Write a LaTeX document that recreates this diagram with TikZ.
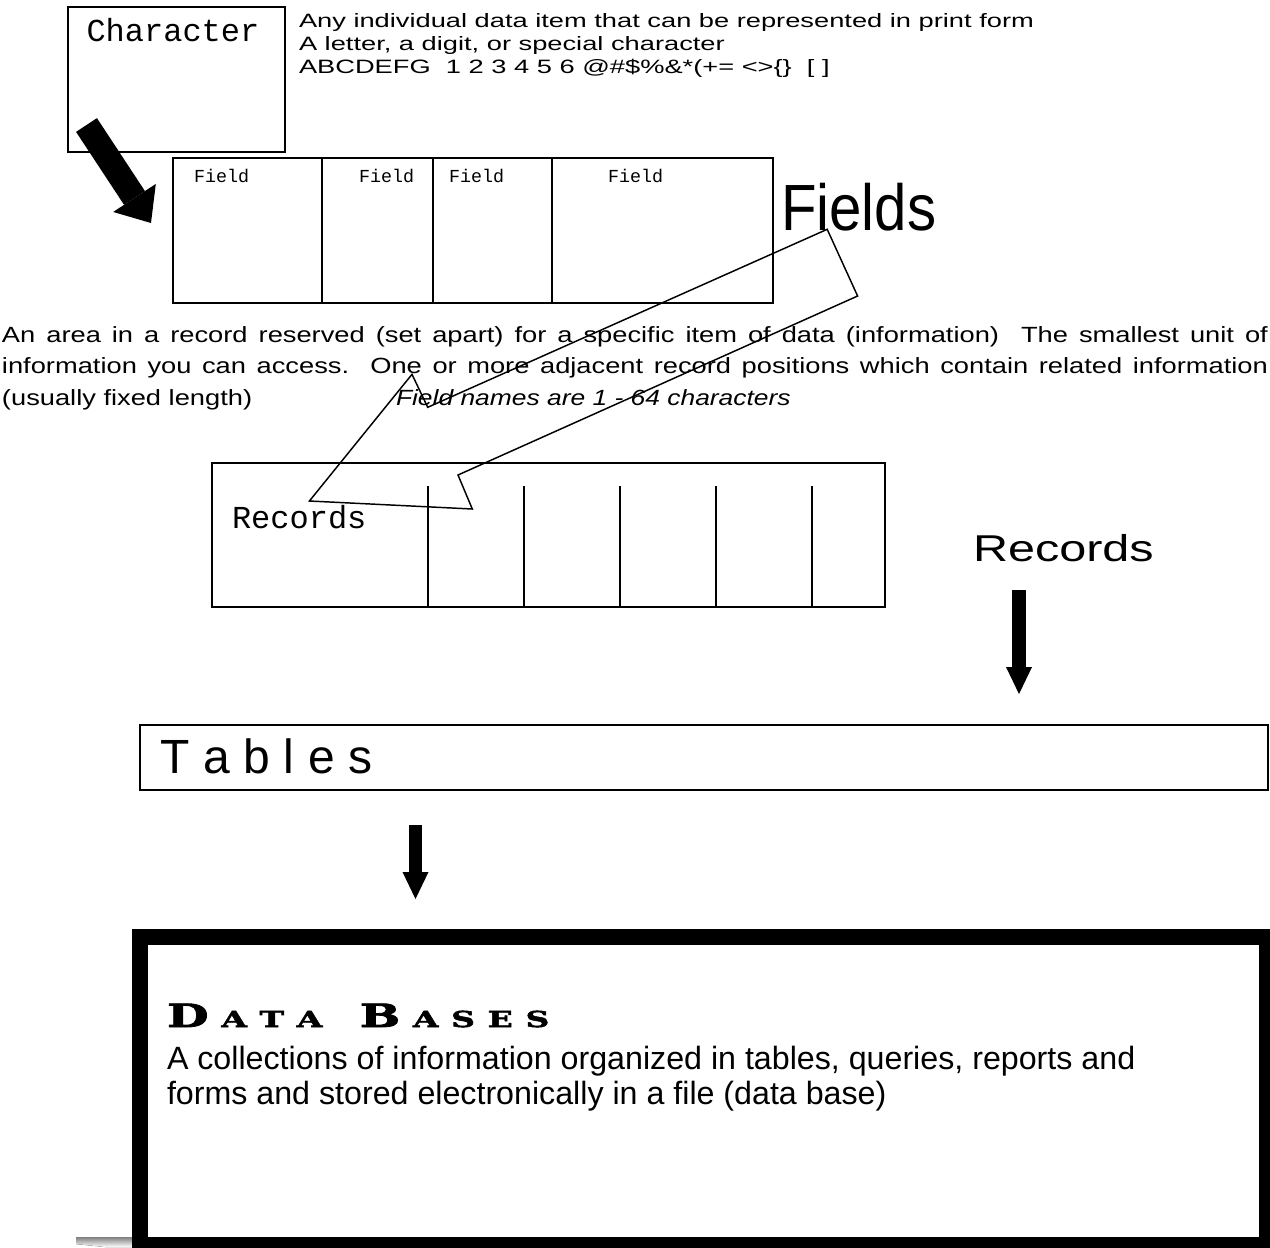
\documentclass[tikz,border=0pt]{standalone}
\usepackage{fontspec}
\usepackage{graphicx}
\setmainfont{Liberation Sans}
\newfontfamily\cour{Liberation Mono}
\newfontfamily\headfont[FakeStretch=1.5,FakeBold=2.5]{DejaVu Serif}
\usetikzlibrary{arrows.meta}
\definecolor{shade}{RGB}{192,192,192}
\newcommand\sx[2]{\scalebox{#1}[1]{#2}}
\newcommand\fs[2]{\fontsize{#1}{#2}\selectfont}
\begin{document}
\begin{tikzpicture}[x=0.75pt,y=-0.75pt,
  framebox/.style={draw, line width=1.5pt, inner sep=0pt, anchor=north west},
  txt/.style={anchor=base west, inner sep=0pt, outer sep=0pt},
  divider/.style={line width=1.5pt},
  callout/.style={line width=1.1pt, line join=miter},
  fatarrow/.style={line width=18.75pt, -{Triangle[width=38.25pt,length=22.5pt,line width=0pt]}},
  downarrow/.style={line width=#1, -{Triangle[width=19.5pt,length=20.25pt,line width=0pt]}}
]
\useasboundingbox (0,0) rectangle (1270,1247);
\clip (0,0) rectangle (1270,1247);

% ---------- Character ----------
\node[framebox, minimum width=162.75pt, minimum height=108.75pt] (charbox) at (67,6) {};
\node[txt] (charlbl) at (86.5,41.7) {\cour\fs{24pt}{28pt}Character};

\node[txt] (t1) at (299,27.5) {\fs{14.5pt}{17pt}\sx{1.41}{Any individual data item that can be represented in print form}};
\node[txt] (t2) at (299,50.5) {\fs{14.5pt}{17pt}\sx{1.41}{A letter, a digit, or special character}};
\node[txt] (t3) at (299,73.5) {\fs{14.5pt}{17pt}\sx{1.41}{ABCDEFG\ \ 1 2 3 4 5 6 @\#\$\%\&*(+= <>\{\}\ \ [ ]}};

% ---------- Fields ----------
\node[framebox, minimum width=450pt, minimum height=108.75pt] (fieldbox) at (172,157) {};
\draw[divider] (322,157) -- (322,302);
\draw[divider] (433,157) -- (433,302);
\draw[divider] (552,157) -- (552,302);
\node[txt] (f1) at (194,182.5) {\cour\fs{13.75pt}{16pt}Field};
\node[txt] (f2) at (359,182.5) {\cour\fs{13.75pt}{16pt}Field};
\node[txt] (f3) at (449,182.5) {\cour\fs{13.75pt}{16pt}Field};
\node[txt] (f4) at (608,182.5) {\cour\fs{13.75pt}{16pt}Field};
\node[txt] (fieldsttl) at (781,230.5) {\fs{49pt}{60pt}\sx{0.89}{Fields}};

\coordinate (fa1) at (86.5,125);
\coordinate (fa2) at (151,223);
\draw[fatarrow] (fa1) -- (fa2);

% ---------- paragraph ----------
\node[txt] (p1) at (2,342) {\fs{16.5pt}{20pt}\sx{1.24}{\makebox[765.7pt][s]{An area in a record reserved (set apart) for a specific item of data (information)\ \ The smallest unit of}}};
\node[txt] (p2) at (2,373.5) {\fs{16.5pt}{20pt}\sx{1.24}{\makebox[765.7pt][s]{information you can access.\ \ One or more adjacent record positions which contain related information}}};
\node[txt] (p3) at (2,405) {\fs{16.5pt}{20pt}\sx{1.24}{(usually fixed length)}};
\node[txt] (p4) at (396,405) {\fs{16.5pt}{20pt}\sx{1.2}{\itshape Field names are 1 - 64 characters}};

% ---------- callout arrow ----------
\draw[callout] (827.2,229.3) -- (857.6,296) -- (458,475) -- (472.3,509) -- (309.4,501) -- (412,374.3) -- (427.7,407.3) -- cycle;

% ---------- Records ----------
\node[framebox, minimum width=504.75pt, minimum height=108pt] (recbox) at (211,462) {};
\foreach \xx in {428,524,620,716,812} \draw[divider] (\xx,486) -- (\xx,606);
\node[txt] (reclbl) at (232,528.3) {\cour\fs{24pt}{28pt}Records};
\node[txt] (recttl) at (973,561) {\fs{28pt}{32pt}\sx{1.3}{Records}};
\coordinate (ra1) at (1019,590);
\coordinate (ra2) at (1019,694);
\draw[downarrow=10.5pt] (ra1) -- (ra2);

% ---------- Tables ----------
\node[framebox, minimum width=846pt, minimum height=48.75pt] (tabbox) at (139,724) {};
\node[txt] (tabttl) at (160,773) {\fs{36pt}{40pt}T\kern10.3pt a\kern10.3pt b\kern10.3pt l\kern10.3pt e\kern10.3pt s};
\coordinate (ta1) at (415.5,825);
\coordinate (ta2) at (415.5,899);
\draw[downarrow=9.75pt] (ta1) -- (ta2);

% ---------- Data Bases ----------
\fill[shade] (76,1237) -- (133,1237) -- (133,1247) -- (105,1247) -- (76,1244) -- cycle;
\draw[line width=12pt] (140,937) rectangle (1267,1245);
\node[txt] (dbhead) at (167,1027) {\headfont\bfseries\fs{24pt}{28pt}D\kern9.5pt\fs{16.5pt}{20pt}A\kern9.5pt T\kern9.5pt A\kern28pt\fs{24pt}{28pt}B\kern9.5pt\fs{16.5pt}{20pt}A\kern9.5pt S\kern9.5pt E\kern9.5pt S};
\node[txt] (db1) at (167,1069) {\fs{24.15pt}{28pt}A collections of information organized in tables, queries, reports and};
\node[txt] (db2) at (167,1104) {\fs{24.15pt}{28pt}forms and stored electronically in a file (data base)};
\end{tikzpicture}
\end{document}
